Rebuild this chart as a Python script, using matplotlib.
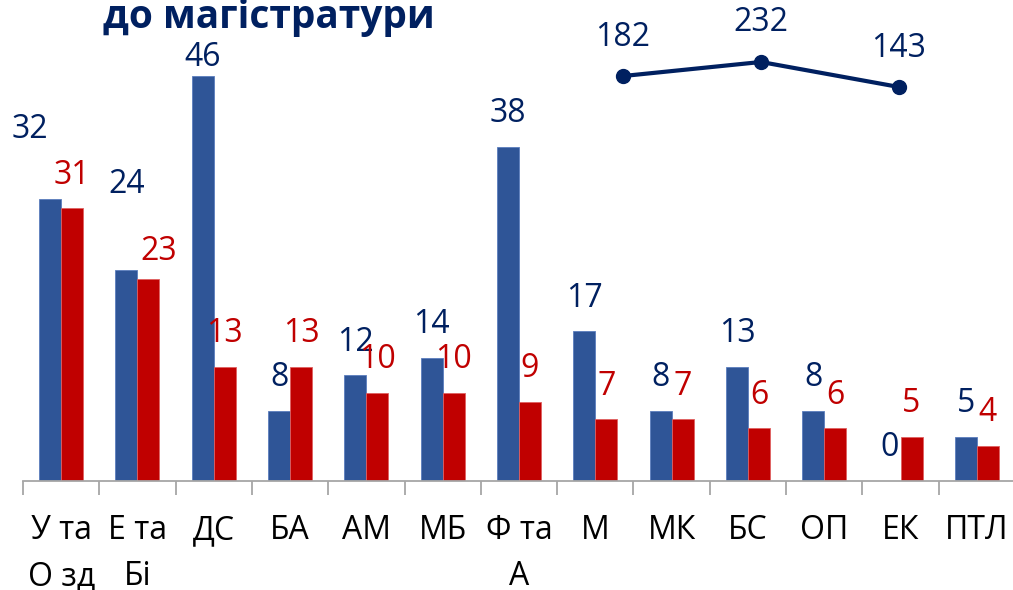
import matplotlib.pyplot as plt
import numpy as np

plt.rcParams['font.family'] = ['Open Sans', 'DejaVu Sans']

# categories and two bar series
categories = ["У та\nО зд", "Е та\nБі", "ДС", "БА", "АМ", "МБ", "Ф та\nА",
              "М", "МК", "БС", "ОП", "ЕК", "ПТЛ"]
blue_values = [32, 24, 46, 8, 12, 14, 38, 17, 8, 13, 8, 0, 5]
red_values = [31, 23, 13, 13, 10, 10, 9, 7, 7, 6, 6, 5, 4]

# small line series at the top
line_values = [182, 232, 143]

title_text = "до магістратури"

BLUE = "#2F5597"
RED = "#C00000"
NAVY = "#002060"
GRAY = "#A6A6A6"

W, H = 1013, 590
fig = plt.figure(figsize=(W / 100, H / 100), dpi=100)

# main axes: left 23px, bottom at y=481px, 8.8 px per unit
ax = fig.add_axes([23 / W, (H - 481) / H, 992 / W, 440 / H])
x = np.arange(len(categories))
bw = 0.288
ax.bar(x - bw / 2, blue_values, bw, color=BLUE, edgecolor="#5B7DBD", linewidth=0.6)
ax.bar(x + bw / 2, red_values, bw, color=RED, edgecolor="#E06060", linewidth=0.6)
ax.set_xlim(-0.5, len(categories) - 0.5)
ax.set_ylim(0, 50)

# label offsets (pixels) - a few were moved by hand in the original
blue_off = {0: (-20, 70), 1: (0, 85), 2: (0, 19)}
red_off = {1: (10, 27)}
for i in range(len(categories)):
    dx, dy = blue_off.get(i, (0, 33))
    ax.annotate(str(blue_values[i]), (x[i] - bw / 2, blue_values[i]),
                xytext=(dx, dy), textcoords="offset pixels", ha="center",
                va="center", fontsize=23, color=NAVY, annotation_clip=False)
    dx, dy = red_off.get(i, (0, 33))
    ax.annotate(str(red_values[i]), (x[i] + bw / 2, red_values[i]),
                xytext=(dx, dy), textcoords="offset pixels", ha="center",
                va="center", fontsize=23, color=RED, annotation_clip=False)

for s in ["top", "right", "left"]:
    ax.spines[s].set_visible(False)
ax.spines["bottom"].set_color(GRAY)
ax.spines["bottom"].set_linewidth(1.3)
ax.set_yticks([])
ax.set_xticks(x)
ax.set_xticklabels(categories, fontsize=23, linespacing=1.5)
ax.tick_params(axis="x", which="major", length=0, pad=24)
ax.set_xticks(np.arange(len(categories) + 1) - 0.5, minor=True)
ax.tick_params(axis="x", which="minor", length=10, width=1.3, color=GRAY)

# inset line
lx = np.arange(len(line_values))
ax2 = fig.add_axes([554 / W, (H - 99.1) / H, 414 / W, 45 / H])
ax2.plot(lx, line_values, color=NAVY, linewidth=3, marker="o", markersize=10)
ax2.set_xlim(-0.5, 2.5)
ax2.set_ylim(100, 260)
ax2.axis("off")
for i, v in enumerate(line_values):
    ax2.annotate(str(v), (lx[i], v), xytext=(0, 39), textcoords="offset pixels",
                 ha="center", va="center", fontsize=23, color=NAVY,
                 annotation_clip=False)

fig.text(269 / W, (H - 28) / H, title_text, ha="center", va="baseline",
         fontsize=28, fontweight="bold", color=NAVY)

fig.savefig("out.png", dpi=100)
